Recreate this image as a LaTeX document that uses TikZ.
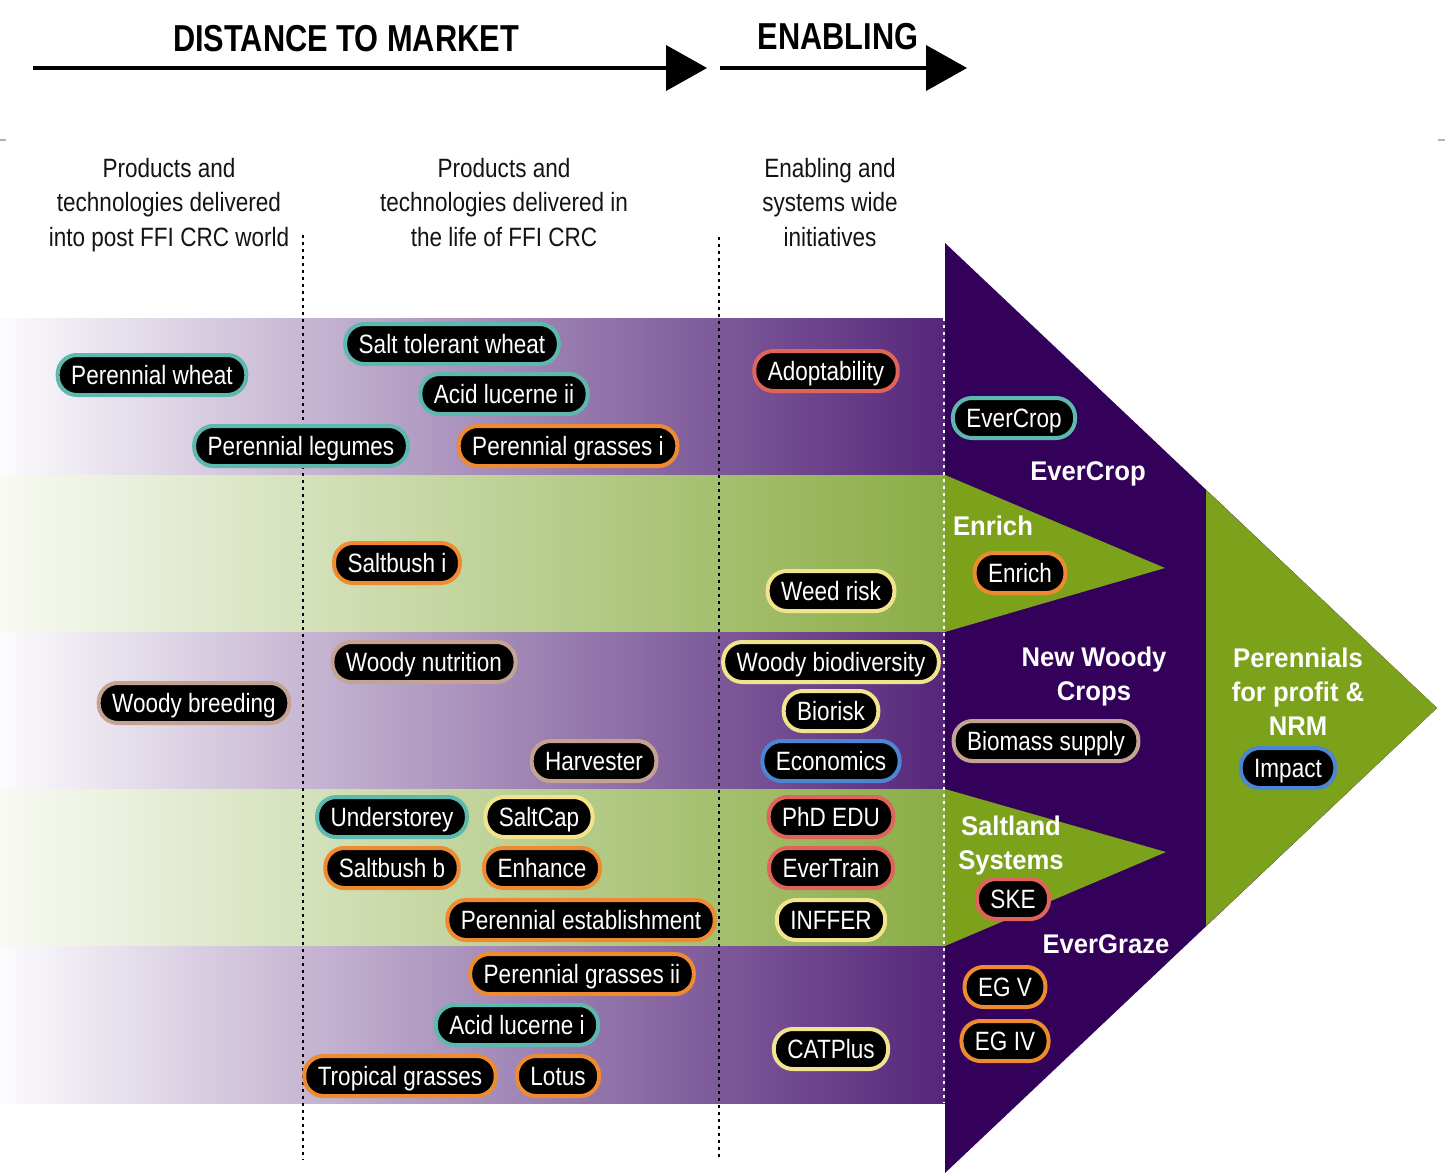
\documentclass[tikz,border=0pt]{standalone}
\usepackage{fontspec}
\newfontfamily\narrowfont[FakeStretch=0.85]{Liberation Sans}
\newfontfamily\hdrfont[FakeStretch=0.82]{Liberation Sans}
\newfontfamily\labfont[FakeStretch=0.95]{Liberation Sans}
\definecolor{cteal}{HTML}{5DB8AE}
\definecolor{corange}{HTML}{EE8A2F}
\definecolor{ctan}{HTML}{C4A393}
\definecolor{cred}{HTML}{E0645A}
\definecolor{cyellow}{HTML}{F2E48C}
\definecolor{cblue}{HTML}{4C86D2}
\definecolor{bigpurple}{HTML}{33005A}
\definecolor{biggreen}{HTML}{7CA11B}
\definecolor{bpR}{HTML}{55267A}
\definecolor{bpM}{HTML}{AB93BB}
\definecolor{bpL}{HTML}{FCFBFD}
\definecolor{bgR}{HTML}{8AAD45}
\definecolor{bgM}{HTML}{C7D6A4}
\definecolor{bgL}{HTML}{F8FAF3}
\tikzset{
  pill/.style={draw, line width=4pt, fill=black, rounded corners=19pt, text=white,
    font=\narrowfont\fontsize{26.5}{30}\selectfont, text height=25pt, text depth=6pt,
    minimum height=40pt, inner ysep=0pt, inner xsep=13.5pt},
  pteal/.style={pill, draw=cteal},
  porange/.style={pill, draw=corange},
  ptan/.style={pill, draw=ctan},
  pred/.style={pill, draw=cred},
  pyellow/.style={pill, draw=cyellow},
  pblue/.style={pill, draw=cblue},
  colhead/.style={anchor=north, inner sep=0pt, align=center, text=black!92,
    font=\narrowfont\fontsize{26.5}{34.5}\selectfont},
  hdr/.style={anchor=north, inner sep=0pt, text=black,
    font=\hdrfont\bfseries\fontsize{37.5}{40}\selectfont},
  lab/.style={anchor=north, inner sep=0pt, align=center, text=white,
    font=\labfont\bfseries\fontsize{27}{34}\selectfont},
  dotline/.style={line width=2.2pt, dash pattern=on 3pt off 4pt},
  purpleband/.style={left color=bpL, middle color=bpM, right color=bpR},
  greenband/.style={left color=bgL, middle color=bgM, right color=bgR}
}
\begin{document}
\begin{tikzpicture}[x=1pt,y=-1pt]
\useasboundingbox (0,0) rectangle (1445,1173);
\fill[white] (0,0) rectangle (1445,1173);

% top header arrows
\node[hdr] (dist) at (346,25) {DISTANCE TO MARKET};
\node[hdr] (enab) at (838,23) {ENABLING};
\coordinate (a1s) at (33,68);
\coordinate (a1e) at (668,68);
\coordinate (a2s) at (720,68);
\coordinate (a2e) at (928,68);
\draw[line width=4pt] (a1s) -- (a1e);
\fill (a1e) ++(-2,-23) -- ++(41,23) -- ++(-41,23) -- cycle;
\draw[line width=4pt] (a2s) -- (a2e);
\fill (a2e) ++(-2,-23) -- ++(41,23) -- ++(-41,23) -- cycle;

% faint ticks
\draw[black!30, line width=2pt] (0,140) -- (6,140);
\draw[black!30, line width=2pt] (1438,140) -- (1445,140);

% column headers
\node[colhead] (c1) at (169,158) {Products and\\technologies delivered\\into post FFI CRC world};
\node[colhead] (c2) at (504,158) {Products and\\technologies delivered in\\the life of FFI CRC};
\node[colhead] (c3) at (830,158) {Enabling and\\systems wide\\initiatives};

% bands
\shade[purpleband] (0,318) rectangle (945,475);
\shade[greenband] (0,475) rectangle (945,632);
\shade[purpleband] (0,632) rectangle (945,789);
\shade[greenband] (0,789) rectangle (945,946);
\shade[purpleband] (0,946) rectangle (945,1103);

% big arrows
\fill[bigpurple] (945,243) -- (1437,708) -- (945,1173) -- cycle;
\fill[biggreen] (945,475) -- (1165,568) -- (945,632) -- cycle;
\fill[biggreen] (945,789) -- (1166,852) -- (945,946) -- cycle;
\fill[biggreen] (1206,490) -- (1437,708) -- (1206,926) -- cycle;

% dotted separators
\draw[dotline] (303,235) -- (303,1160);
\draw[dotline] (719,237) -- (719,1160);
\draw[dotline, white] (944,318) -- (944,1103);

% labels on arrows
\node[lab] (lEverCrop) at (1088,461) {EverCrop};
\node[lab] (lEnrich) at (993,516) {Enrich};
\node[lab] (lWoody) at (1094,647) {New Woody\\Crops};
\node[lab] (lSalt) at (1011,816) {Saltland\\Systems};
\node[lab] (lGraze) at (1106,934) {EverGraze};
\node[lab] (lPer) at (1298,648) {Perennials\\for profit \&\\NRM};

% pills
\node[pteal] (pw) at (152,375) {Perennial wheat};
\node[pteal] (stw) at (452,344) {Salt tolerant wheat};
\node[pteal] (alii) at (504,394) {Acid lucerne ii};
\node[pteal] (pl) at (301,446) {Perennial legumes};
\node[porange] (pgi) at (568,446) {Perennial grasses i};
\node[pred] (adopt) at (826,371) {Adoptability};
\node[pteal] (evc) at (1014,418) {EverCrop};
\node[porange] (sbi) at (397,563) {Saltbush i};
\node[pyellow] (weed) at (831,591) {Weed risk};
\node[porange] (enr) at (1020,573) {Enrich};
\node[ptan] (wn) at (424,662) {Woody nutrition};
\node[ptan] (wb) at (194,703) {Woody breeding};
\node[ptan] (harv) at (594,761) {Harvester};
\node[pyellow] (wbd) at (831,662) {Woody biodiversity};
\node[pyellow] (bior) at (831,711) {Biorisk};
\node[pblue] (econ) at (831,761) {Economics};
\node[ptan] (bms) at (1046,741) {Biomass supply};
\node[pteal] (und) at (392,817) {Understorey};
\node[pyellow] (scap) at (539,817) {SaltCap};
\node[porange] (sbb) at (392,868) {Saltbush b};
\node[porange] (enh) at (542,868) {Enhance};
\node[porange] (pest) at (581,920) {Perennial establishment};
\node[pred] (phd) at (831,817) {PhD EDU};
\node[pred] (evt) at (831,868) {EverTrain};
\node[pyellow] (inf) at (831,920) {INFFER};
\node[pred] (ske) at (1013,899) {SKE};
\node[porange] (pgii) at (582,974) {Perennial grasses ii};
\node[pteal] (ali) at (517,1025) {Acid lucerne i};
\node[porange] (trop) at (400,1076) {Tropical grasses};
\node[porange] (lotus) at (558,1076) {Lotus};
\node[pyellow] (cat) at (831,1049) {CATPlus};
\node[porange] (egv) at (1005,987) {EG V};
\node[porange] (egiv) at (1005,1041) {EG IV};
\node[pblue] (imp) at (1288,768) {Impact};
\end{tikzpicture}
\end{document}
